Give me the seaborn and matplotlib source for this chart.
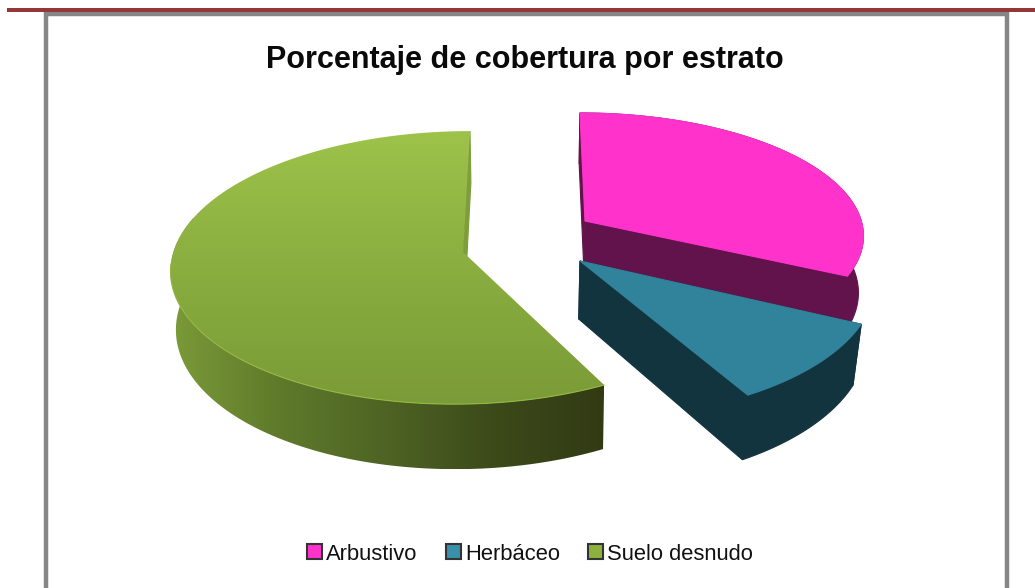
import numpy as np
import matplotlib
matplotlib.use("Agg")
import matplotlib.pyplot as plt
from matplotlib.patches import Patch, Polygon
import seaborn as sns

# Datos
estratos = ["Arbustivo", "Herbáceo", "Suelo desnudo"]
porcentajes = [32, 10, 58]
titulo = "Porcentaje de cobertura por estrato"

# Colores
color_cara = ["#FF33CC", "#31829B", None]
color_lado = ["#63134C", "#12343F", None]
color_leyenda = ["#FF33CC", "#3A8FAB", "#8DB13F"]
rampa_verde_cara = ["#9DC34A", "#8AAE40", "#7A9B37"]
rampa_verde_lado = ["#7B9B38", "#5F7A2B", "#4E6324", "#3C4A1A", "#323A14"]

# Geometria de la perspectiva (en pixeles de la imagen)
CX, CY = 531, 240
RADIO_X, RADIO_Y = 291, 134
FUGA = 0.115
ALTURA = 57
vertices = [(585, 221), (580, 261), (463, 252)]
factor_x = [0.965, 0.99, 0.985]
factor_y = [0.92, 1.0, 0.985]
escala_base = [0.985, 0.975, 0.985]
# Pequenos retoques de angulo (grados) de cada sector: inicio, fin
ajuste_grados = [(0, 1.0), (0.4, -1.0), (1.3, 0)]


def proyectar(x, y):
    w = 1 + FUGA * y
    return CX + RADIO_X * x / w, CY - RADIO_Y * y / w


def inversa(sx, sy):
    a = (CY - sy) / RADIO_Y
    y = a / (1 - FUGA * a)
    return (sx - CX) * (1 + FUGA * y) / RADIO_X, y


def base(x, y, escala):
    sx, sy = proyectar(x, y)
    w = 1 + FUGA * y
    return CX + (sx - CX) * escala, sy + ALTURA / w


def relleno(ax, pts, color=None, rampa=None, horizontal=False, z=1):
    """Rellena un poligono con color plano o con un degradado recortado."""
    pts = np.asarray(pts)
    if rampa is None:
        ax.add_patch(Polygon(pts, closed=True, fc=color, ec=color, lw=0.8, zorder=z))
        return
    cmap = sns.blend_palette(rampa, as_cmap=True)
    grad = np.linspace(0, 1, 256)
    grad = grad.reshape(1, -1) if horizontal else grad.reshape(-1, 1)
    x0, x1, y0, y1 = pts[:, 0].min(), pts[:, 0].max(), pts[:, 1].min(), pts[:, 1].max()
    im = ax.imshow(grad, cmap=cmap, extent=(x0, x1, y1, y0), aspect="auto", zorder=z)
    clip = Polygon(pts, closed=True, fc="none", ec="none", transform=ax.transData)
    ax.add_patch(clip)
    im.set_clip_path(clip)


sns.set_theme(style="white")
plt.rcParams["font.family"] = ["Liberation Sans", "DejaVu Sans"]

fig = plt.figure(figsize=(10.35, 5.88), dpi=100, facecolor="white")
ax = fig.add_axes([0, 0, 1, 1])
ax.set_xlim(0, 1035)
ax.set_ylim(588, 0)
ax.axis("off")

# Marco de la pagina
ax.fill_between([7, 1035], 8, 12, color="#953735", lw=0, zorder=5)
ax.plot([46, 46, 1007, 1007], [588, 14, 14, 588], color="#868686", lw=3.2,
        solid_joinstyle="miter", zorder=4)

# Sectores: angulos medidos en sentido horario desde el norte
fracciones = np.array(porcentajes) / sum(porcentajes)
limites = np.concatenate([[0], np.cumsum(fracciones) * 2 * np.pi])

for i in [2, 0, 1]:
    ini = limites[i] + np.radians(ajuste_grados[i][0])
    fin = limites[i + 1] + np.radians(ajuste_grados[i][1])
    tx, ty = inversa(*vertices[i])
    th = np.linspace(ini, fin, 200)
    arco_x = tx + factor_x[i] * np.sin(th)
    arco_y = ty + factor_y[i] * np.cos(th)

    cara = [proyectar(tx, ty)] + [proyectar(a, b) for a, b in zip(arco_x, arco_y)]
    abajo = [base(a, b, escala_base[i]) for a, b in zip(arco_x, arco_y)]
    fondo = base(tx, ty, escala_base[i])
    pared_ini = [cara[0], cara[1], abajo[0], fondo]
    pared_fin = [cara[0], cara[-1], abajo[-1], fondo]
    z = 2 + i if i != 2 else 1

    if i == 2:
        # el lado verde solo se ve hasta el oeste
        n = int(np.searchsorted(th, np.radians(285)))
        lado = cara[1:n + 1] + abajo[:n][::-1]
        relleno(ax, pared_fin, color="#7D9E3A", z=z)
        relleno(ax, lado, rampa=rampa_verde_lado, horizontal=True, z=z + 0.1)
        relleno(ax, cara, rampa=rampa_verde_cara, z=z + 0.2)
        ax.plot(*zip(*cara[1:110]), color="#93B840", lw=0.8, zorder=z + 0.3)
    else:
        lado = cara[1:] + abajo[::-1]
        relleno(ax, pared_ini, color=color_lado[i], z=z)
        relleno(ax, pared_fin, color=color_lado[i], z=z)
        relleno(ax, lado, color=color_lado[i], z=z)
        relleno(ax, cara, color=color_cara[i], z=z + 0.2)

ax.text(525, 60, titulo, ha="center", va="center", fontsize=22,
        fontweight="bold", color="#0A0A0A")

manejadores = [Patch(facecolor=c, edgecolor="#333333", linewidth=1.5, label=e)
               for c, e in zip(color_leyenda, estratos)]
ax.legend(handles=manejadores, loc="center", bbox_to_anchor=(530 / 1035, 1 - 554 / 588),
          ncol=3, frameon=False, fontsize=15.8, handlelength=0.68, handleheight=0.68,
          handletextpad=0.2, columnspacing=1.27, labelcolor="#111111")

fig.savefig("out.png", dpi=100, facecolor="white")
